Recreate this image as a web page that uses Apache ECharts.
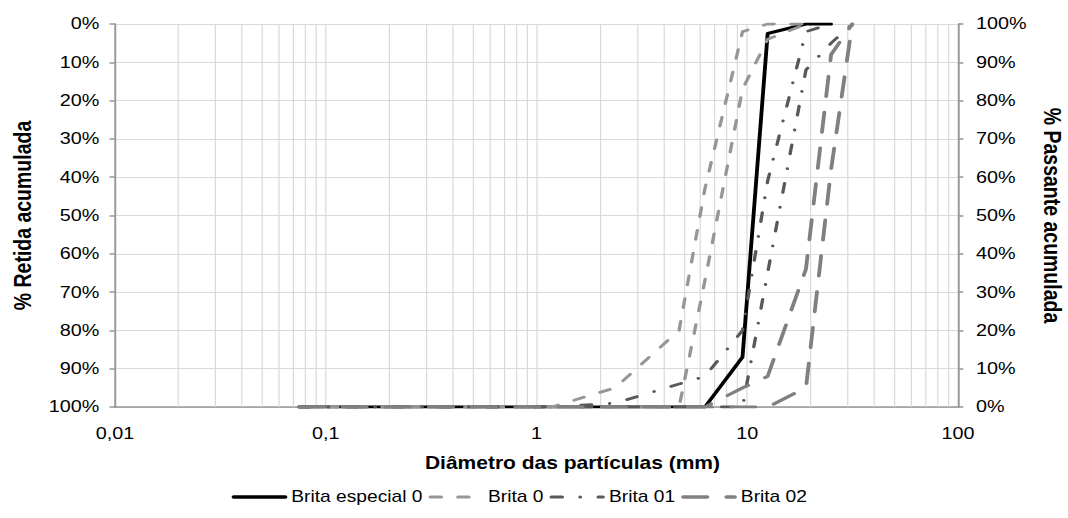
<!DOCTYPE html>
<html>
<head>
<meta charset="utf-8">
<script src="https://cdn.jsdelivr.net/npm/echarts@6/dist/echarts.min.js"></script>
<style>
  html, body { margin: 0; padding: 0; background: #ffffff; overflow: hidden; }
  #wrap { width: 1068px; height: 518px; overflow: hidden; }
  /* the reference picture is horizontally stretched (about 1.2x) */
  #chart { width: 890px; height: 518px; transform: scaleX(1.2); transform-origin: 0 0; }
</style>
</head>
<body>
<div id="wrap"><div id="chart"></div></div>
<script>
// Sieve openings (mm)
const sieves = [0.075, 0.15, 0.3, 0.6, 1.18, 2.36, 4.75, 6.3, 9.5, 12.5, 19, 25, 31.5];
// % passing
const britaEspecial0 = [0, 0, 0, 0, 0, 0, 0, 0, 13, 97.5, 100, 100, null];
const brita0Sup  = [0, 0, 0, 0, 0, 5, 20, 57, 98, 100, 100, null, null];
const brita0Inf  = [0, 0, 0, 0, 0, 0, 0, 33, 83, 96, 100, null, null];
const brita01Sup = [0, 0, 0, 0, 0, 1, 6, 8, 20, 59, 98, 100, null];
const brita01Inf = [0, 0, 0, 0, 0, 0, 0, 0, 0, 35, 88, 95, 100];
const brita02Sup = [0, 0, 0, 0, 0, 0, 0, 0, 5, 8, 36, 92, 100];
const brita02Inf = [0, 0, 0, 0, 0, 0, 0, 0, 0, 0, 5, 62, 100];

const seriesNames = ['Brita especial 0', 'Brita 0', 'Brita 01', 'Brita 02'];
const xTickLabels = ['0,01', '0,1', '1', '10', '100'];
const xTitle = 'Diâmetro das partículas (mm)';
const yLeftTitle = '% Retida acumulada';
const yRightTitle = '% Passante acumulada';

const FONT = "'Liberation Sans', Arial, sans-serif";

function pairs(vals) {
  return sieves.map((s, i) => [s, vals[i]]).filter(p => p[1] !== null);
}

// minor log gridlines (2..9 in each decade)
const minorGrid = [];
[0.01, 0.1, 1, 10].forEach(d => {
  for (let m = 2; m <= 9; m++) minorGrid.push(Number((m * d).toPrecision(3)));
});

const styles = {
  esp:  { color: '#000000', width: 3.2, type: 'solid' },
  b0:   { color: '#969696', width: 2.8, type: [9, 14] },
  b01:  { color: '#595959', width: 2.8, type: [9, 15, 0.1, 15] },
  b02:  { color: '#808080', width: 3.2, type: [20, 16] }
};

function lineSeries(name, vals, st) {
  return {
    name: name,
    type: 'line',
    xAxisIndex: 0,
    yAxisIndex: 1,
    data: pairs(vals),
    symbol: 'none',
    showSymbol: false,
    smooth: false,
    z: 3,
    itemStyle: { color: st.color },
    lineStyle: { color: st.color, width: st.width, type: st.type, cap: 'round', join: 'round' }
  };
}

const legendStyles = [styles.esp, styles.b0, styles.b01, styles.b02];

const chart = echarts.init(document.getElementById('chart'), null, { renderer: 'svg' });

const axisGray = '#969696';

const option = {
  animation: false,
  backgroundColor: '#ffffff',
  textStyle: { fontFamily: FONT },
  grid: { left: 95.8, right: 91.7, top: 24, bottom: 111, containLabel: false, outerBoundsMode: 'none' },
  legend: {
    data: seriesNames.map((n, i) => ({
      name: n,
      lineStyle: { width: legendStyles[i].width + 0.3, type: legendStyles[i].type, color: legendStyles[i].color, cap: 'round' }
    })),
    bottom: 8,
    left: 188,
    itemWidth: 43,
    itemHeight: 12,
    itemGap: 5,
    itemStyle: { opacity: 0 },
    textStyle: { fontFamily: FONT, fontSize: 16, color: '#000000' }
  },
  xAxis: [
    {
      type: 'log',
      logBase: 10,
      min: 0.01,
      max: 100,
      position: 'bottom',
      name: xTitle,
      nameLocation: 'middle',
      nameGap: 47,
      nameTextStyle: { fontFamily: FONT, fontSize: 17.5, fontWeight: 'bold', color: '#000000', padding: [0, 0, 0, 60] },
      axisLine: { show: false },
      axisTick: { show: false },
      axisLabel: {
        margin: 18,
        fontFamily: FONT, fontSize: 16.5, color: '#000000',
        formatter: v => xTickLabels[Math.round(Math.log10(v)) + 2]
      },
      splitLine: { show: true, lineStyle: { color: '#d9d9d9', width: 1 } }
    },
    {
      type: 'log',
      logBase: 10,
      min: 0.01,
      max: 100,
      position: 'top',
      axisLine: { show: true, lineStyle: { color: axisGray, width: 1.5 } },
      axisTick: { show: false },
      axisLabel: { show: false },
      splitLine: { show: false }
    }
  ],
  yAxis: [
    {
      type: 'value',
      position: 'left',
      inverse: true,
      min: 0,
      max: 100,
      interval: 10,
      name: yLeftTitle,
      nameLocation: 'middle',
      nameRotate: 90,
      nameGap: 66,
      nameTextStyle: { fontFamily: FONT, fontSize: 19.5, fontWeight: 'bold', color: '#000000' },
      axisLine: { show: true, lineStyle: { color: axisGray, width: 1.5 } },
      axisTick: { show: true, inside: false, length: 4.5, lineStyle: { color: axisGray, width: 1.5 } },
      axisLabel: { margin: 13, fontFamily: FONT, fontSize: 16.5, color: '#000000', formatter: '{value}%' },
      splitLine: { show: true, lineStyle: { color: '#d9d9d9', width: 1 } }
    },
    {
      type: 'value',
      position: 'right',
      min: 0,
      max: 100,
      interval: 10,
      name: yRightTitle,
      nameLocation: 'middle',
      nameRotate: -90,
      nameGap: 68,
      nameTextStyle: { fontFamily: FONT, fontSize: 19.5, fontWeight: 'bold', color: '#000000' },
      axisLine: { show: true, lineStyle: { color: axisGray, width: 1.5 } },
      axisTick: { show: true, inside: false, length: 4.5, lineStyle: { color: axisGray, width: 1.5 } },
      axisLabel: { margin: 15, fontFamily: FONT, fontSize: 16.5, color: '#000000', formatter: '{value}%' },
      splitLine: { show: false }
    }
  ],
  series: [
    {
      name: 'grid-minor',
      type: 'line',
      xAxisIndex: 0,
      yAxisIndex: 1,
      data: [],
      silent: true,
      z: 1,
      markLine: {
        silent: true,
        z: 1,
        symbol: ['none', 'none'],
        label: { show: false },
        lineStyle: { color: '#d9d9d9', width: 1, type: 'solid' },
        data: minorGrid.map(v => ({ xAxis: v }))
      }
    },
    lineSeries(seriesNames[0], britaEspecial0, styles.esp),
    lineSeries(seriesNames[1], brita0Sup, styles.b0),
    lineSeries(seriesNames[1], brita0Inf, styles.b0),
    lineSeries(seriesNames[2], brita01Sup, styles.b01),
    lineSeries(seriesNames[2], brita01Inf, styles.b01),
    lineSeries(seriesNames[3], brita02Sup, styles.b02),
    lineSeries(seriesNames[3], brita02Inf, styles.b02)
  ]
};

chart.setOption(option);
</script>
</body>
</html>
